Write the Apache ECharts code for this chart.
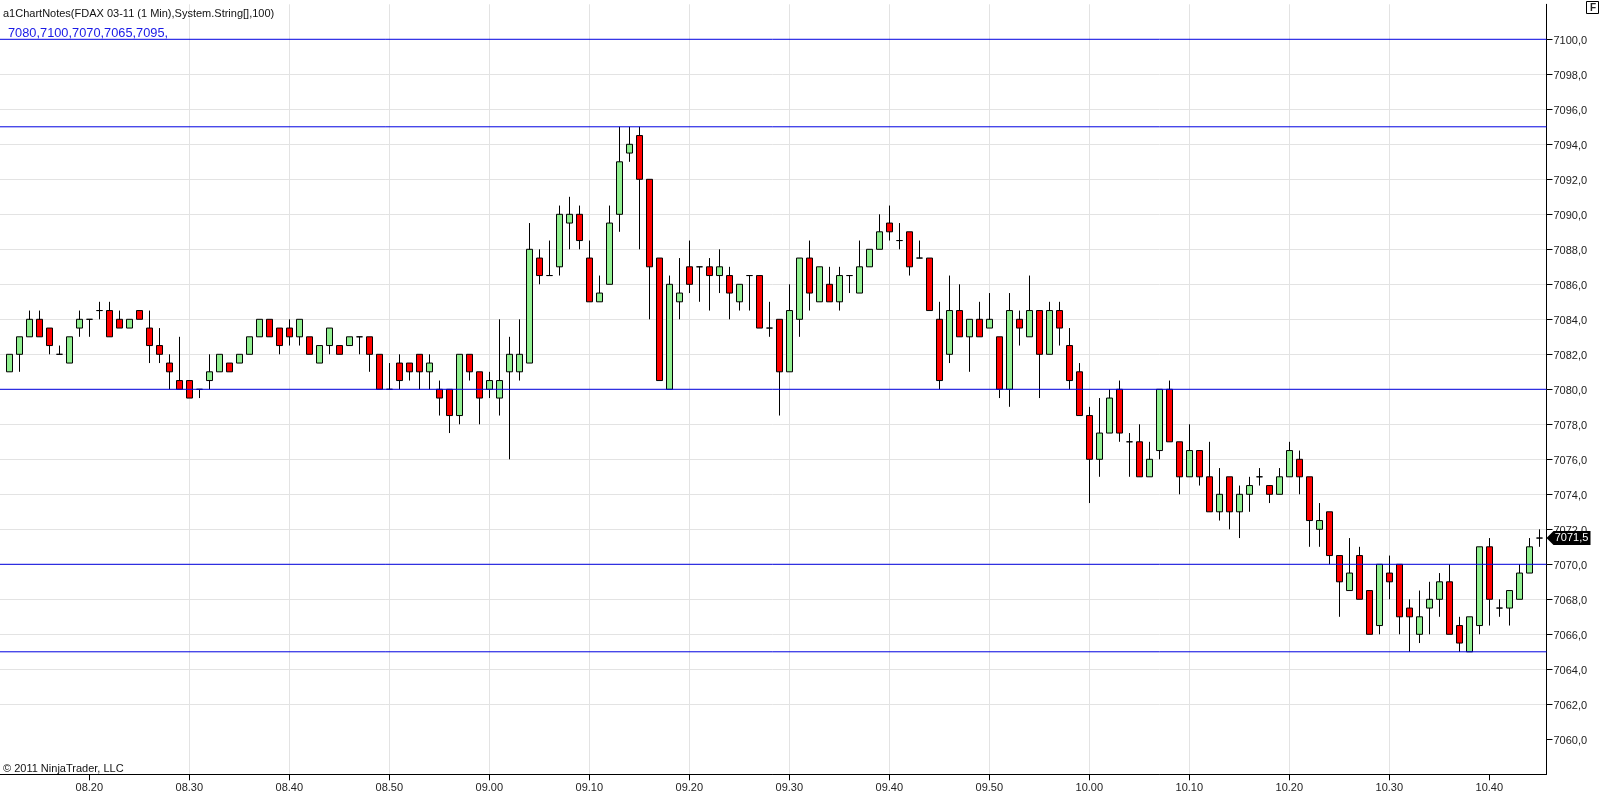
<!DOCTYPE html>
<html><head><meta charset="utf-8">
<style>html,body{margin:0;padding:0;background:#fff}#c{width:1600px;height:801px}</style>
<script src="https://cdn.jsdelivr.net/npm/echarts@6/dist/echarts.min.js"></script>
</head><body><div id="c"></div>
<script>
const times = ["08.12","08.13","08.14","08.15","08.16","08.17","08.18","08.19","08.20","08.21","08.22","08.23","08.24","08.25","08.26","08.27","08.28","08.29","08.30","08.31","08.32","08.33","08.34","08.35","08.36","08.37","08.38","08.39","08.40","08.41","08.42","08.43","08.44","08.45","08.46","08.47","08.48","08.49","08.50","08.51","08.52","08.53","08.54","08.55","08.56","08.57","08.58","08.59","09.00","09.01","09.02","09.03","09.04","09.05","09.06","09.07","09.08","09.09","09.10","09.11","09.12","09.13","09.14","09.15","09.16","09.17","09.18","09.19","09.20","09.21","09.22","09.23","09.24","09.25","09.26","09.27","09.28","09.29","09.30","09.31","09.32","09.33","09.34","09.35","09.36","09.37","09.38","09.39","09.40","09.41","09.42","09.43","09.44","09.45","09.46","09.47","09.48","09.49","09.50","09.51","09.52","09.53","09.54","09.55","09.56","09.57","09.58","09.59","10.00","10.01","10.02","10.03","10.04","10.05","10.06","10.07","10.08","10.09","10.10","10.11","10.12","10.13","10.14","10.15","10.16","10.17","10.18","10.19","10.20","10.21","10.22","10.23","10.24","10.25","10.26","10.27","10.28","10.29","10.30","10.31","10.32","10.33","10.34","10.35","10.36","10.37","10.38","10.39","10.40","10.41","10.42","10.43","10.44","10.45"];
const opens = [7081,7082,7083,7084,7083.5,7082,7081.5,7083.5,7084,7084.5,7084.5,7084,7083.5,7084.5,7083.5,7082.5,7081.5,7080.5,7080.5,7080,7080.5,7081,7081.5,7081.5,7082,7083,7084,7083.5,7083.5,7083,7083,7081.5,7082.5,7082.5,7082.5,7083,7083,7082,7080,7081.5,7081.5,7082,7081,7080,7080,7078.5,7082,7081,7080,7079.5,7081,7081,7081.5,7087.5,7086.5,7087,7089.5,7090,7087.5,7085,7086,7090,7093.5,7094.5,7092,7087.5,7080,7085,7087,7087,7087,7086.5,7086.5,7085,7086.5,7086.5,7083.5,7084,7081,7084,7087.5,7085,7086,7085,7086.5,7085.5,7087,7088,7089.5,7088.5,7089,7087.5,7087.5,7084,7082,7084.5,7083,7084,7083.5,7083,7080,7084,7083,7084.5,7082,7084.5,7082.5,7081,7078.5,7076,7077.5,7080,7077,7077,7075,7076.5,7080,7077,7075,7076.5,7075,7073,7075,7073,7074,7075,7074.5,7074,7075,7076,7075,7072,7073,7070.5,7068.5,7070.5,7068.5,7066.5,7069.5,7070,7067.5,7066,7067.5,7068,7069,7066.5,7065,7066.5,7071,7067.5,7067.5,7068,7069.5,7071.5];
const closes = [7082,7083,7084,7083,7082.5,7082,7083,7084,7084,7084.5,7083,7083.5,7084,7084,7082.5,7082,7081,7080,7079.5,7080,7081,7082,7081,7082,7083,7084,7083,7082.5,7083,7084,7082,7082.5,7083.5,7082,7083,7083,7082,7080,7080,7080.5,7081,7081,7081.5,7079.5,7078.5,7082,7081,7079.5,7080.5,7080.5,7082,7082,7088,7086.5,7086.5,7090,7090,7088.5,7085,7085.5,7089.5,7093,7094,7092,7087,7080.5,7086,7085.5,7086,7087,7086.5,7087,7085.5,7086,7086.5,7083.5,7083.5,7081,7084.5,7087.5,7085.5,7087,7085,7086.5,7086.5,7087,7088,7089,7089,7088.5,7087,7087.5,7084.5,7080.5,7084.5,7083,7084,7083,7084,7080,7084.5,7083.5,7084.5,7082,7084.5,7083.5,7080.5,7078.5,7076,7077.5,7079.5,7077.5,7077,7075,7076,7080,7077,7075,7076.5,7075,7073,7074,7073,7074,7074.5,7075,7074,7075,7076.5,7075,7072.5,7072.5,7070.5,7069,7069.5,7068,7066,7070,7069,7067,7067,7067,7068,7069,7066,7065.5,7067,7071,7068,7067.5,7068.5,7069.5,7071,7071.5];
const lows = [7081,7081,7083,7083,7082,7082,7081.5,7083,7083,7084,7083,7083.5,7083.5,7084,7081.5,7081.5,7080,7080,7079.5,7079.5,7080,7081,7081,7081.5,7082,7083,7083,7082,7082.5,7082.5,7082,7081.5,7082,7082,7082.5,7082,7081,7080,7080,7080,7080.5,7080,7080,7078.5,7077.5,7078,7080.5,7078,7079.5,7078.5,7076,7080.5,7081.5,7086,7086.5,7086.5,7088,7088,7085,7085,7086,7089,7093,7088,7084,7080.5,7080,7084,7085.5,7085,7084.5,7085.5,7084,7084.5,7084.5,7083.5,7083,7078.5,7081,7083,7084.5,7085,7085,7084.5,7085.5,7085.5,7087,7088,7088.5,7088,7086.5,7087.5,7084.5,7080,7081.5,7083,7081,7083,7083.5,7079.5,7079,7082.5,7083,7079.5,7082,7082.5,7080,7078.5,7073.5,7075,7077.5,7077,7075,7075,7075,7076,7077,7074,7075,7074.5,7073,7072.5,7072,7071.5,7073,7074.5,7073.5,7074,7075,7074,7071,7071,7070,7067,7068.5,7068,7066,7066,7068,7066,7065,7065.5,7066,7067,7066,7065,7065,7066,7066.5,7067,7066.5,7068,7069.5,7071];
const highs = [7082,7083,7084.5,7084.5,7083.5,7082.5,7083,7084.5,7084,7085,7085,7084.5,7084,7084.5,7084.5,7083.5,7082,7083,7080.5,7080,7082,7082,7081.5,7082,7083,7084,7084,7083.5,7084,7084,7083,7082.5,7083.5,7082.5,7083,7083,7083,7082,7081.5,7082,7081.5,7082,7082,7080.5,7080,7082,7082,7081,7081,7084,7083,7084,7089.5,7088,7088.5,7090.5,7091,7090.5,7088.5,7086.5,7090.5,7095,7095,7095,7092,7087.5,7086.5,7087.5,7088.5,7087,7087.5,7088,7087,7086,7086.5,7086.5,7085,7084,7086,7087.5,7088.5,7087,7087,7087,7086.5,7088.5,7088,7090,7090.5,7089.5,7089,7088.5,7087.5,7085,7086.5,7086,7084,7085,7085.5,7083,7085.5,7084.5,7086.5,7084.5,7085,7085,7083.5,7081.5,7079,7079.5,7080,7080.5,7077.5,7078,7077,7080,7080.5,7077,7078,7076.5,7077,7075.5,7075,7074.5,7075,7075.5,7074.5,7075.5,7077,7076.5,7075,7073.5,7073,7070.5,7071.5,7071,7068.5,7070,7070.5,7070,7068,7068.5,7069,7069.5,7070,7067,7067,7071,7071.5,7068,7068.5,7070,7071.5,7072];
const levels = [7100,7095,7080,7070,7065];
const xTickLabels = ["08.20","08.30","08.40","08.50","09.00","09.10","09.20","09.30","09.40","09.50","10.00","10.10","10.20","10.30","10.40"];
const yTickLabels = [7060,7062,7064,7066,7068,7070,7072,7074,7076,7078,7080,7082,7084,7086,7088,7090,7092,7094,7096,7098,7100];
const lastPrice = 7071.5;
const titleText = "a1ChartNotes(FDAX 03-11 (1 Min),System.String[],100)";
const notesText = "7080,7100,7070,7065,7095,";
const creditText = "\u00a9 2011 NinjaTrader, LLC";

const toMin = s => { const [h, m] = s.split('.').map(Number); return h * 60 + m; };
const pad = n => String(n).padStart(2, '0');
const toLabel = v => pad(Math.floor(v / 60)) + '.' + pad(Math.round(v % 60));
const comma = v => Number(v).toFixed(1).replace('.', ',');
const candles = times.map((t, i) => [toMin(t), opens[i], closes[i], lows[i], highs[i]]);
const font = '"Liberation Sans", Arial, sans-serif';
const X_MIN = 480, X_MAX = 645.72;

const chart = echarts.init(document.getElementById('c'), null, {renderer: 'canvas'});
chart.setOption({
  animation: false,
  backgroundColor: '#fff',
  grid: {left: -110.7, top: 4.3, width: 1657.2, height: 770, containLabel: false, outerBoundsMode: 'none'},
  xAxis: {
    type: 'value', min: X_MIN, max: X_MAX, interval: 10,
    axisLine: {show: true, onZero: false, lineStyle: {color: '#000', width: 1}},
    axisTick: {show: true, length: 6, lineStyle: {color: '#000'}, customValues: xTickLabels.map(toMin)},
    axisLabel: {show: true, customValues: xTickLabels.map(toMin), formatter: toLabel, margin: 8, fontFamily: font, fontSize: 11, color: '#222', hideOverlap: false},
    splitLine: {show: true, showMinLine: false, showMaxLine: false, lineStyle: {color: '#e3e3e3', width: 1}}
  },
  yAxis: {
    type: 'value', position: 'right', min: 7058, max: 7102, interval: 2, scale: true,
    axisLine: {show: true, onZero: false, lineStyle: {color: '#000', width: 1}},
    axisTick: {show: true, length: 6, lineStyle: {color: '#000'}, customValues: yTickLabels},
    axisLabel: {show: true, customValues: yTickLabels, formatter: comma, margin: 7, verticalAlign: 'top', lineHeight: 3, fontFamily: font, fontSize: 11, color: '#222'},
    splitLine: {show: true, showMinLine: false, showMaxLine: false, lineStyle: {color: '#e3e3e3', width: 1}}
  },
  series: [{
    type: 'candlestick',
    data: candles,
    barWidth: 6,
    itemStyle: {color: '#90EE90', color0: '#FF0000', borderColor: '#000', borderColor0: '#000', borderColorDoji: '#000', borderWidth: 1},
    silent: true,
    markPoint: {
      silent: true, animation: false,
      symbol: 'path://M0,7 L7,0 L44,0 L44,14 L7,14 Z', symbolKeepAspect: false,
      symbolSize: [44, 14], symbolOffset: [22, 0],
      itemStyle: {color: '#000'},
      label: {show: true, position: 'inside', offset: [3, 0], color: '#fff', fontFamily: font, fontSize: 11, formatter: () => comma(lastPrice)},
      data: [{coord: [X_MAX, lastPrice]}]
    }
  }].concat(levels.map(v => ({
    type: 'line', silent: true, showSymbol: false, symbol: 'none', z: 5,
    lineStyle: {color: '#0000e0', width: 1, type: 'solid'},
    data: [[X_MIN, v], [X_MAX, v]]
  }))),
  graphic: [
    {type: 'text', left: 3, top: 8, z: 100, silent: true, style: {text: titleText, font: '11px ' + font, fill: '#111'}},
    {type: 'text', left: 8, top: 27, z: 100, silent: true, style: {text: notesText, font: '12.8px ' + font, fill: '#1a1ae6'}},
    {type: 'text', left: 3, top: 763, z: 100, silent: true, style: {text: creditText, font: '11px ' + font, fill: '#111'}},
    {type: 'group', left: 1586, top: 1, z: 100, silent: true, children: [
      {type: 'rect', shape: {x: 0.5, y: 0.5, width: 12, height: 12}, style: {fill: '#fff', stroke: '#000', lineWidth: 1}},
      {type: 'text', x: 4, y: 2, style: {text: 'F', font: 'bold 10px ' + font, fill: '#222'}}
    ]}
  ]
});
</script></body></html>
